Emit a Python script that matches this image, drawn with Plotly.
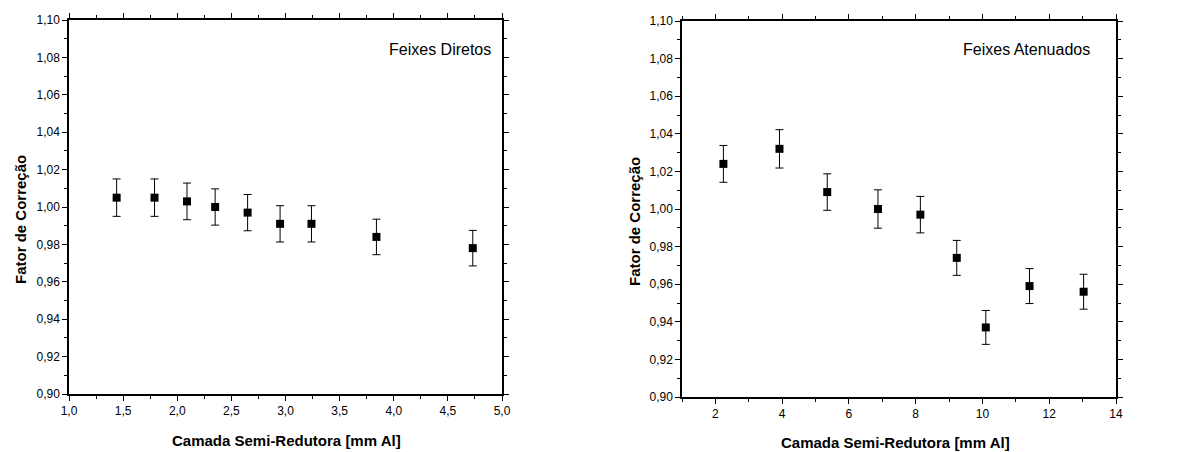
import plotly.graph_objects as go

# Left panel: Feixes Diretos
csr_diretos = [1.44, 1.79, 2.09, 2.35, 2.65, 2.95, 3.24, 3.84, 4.73]
fator_diretos = [1.005, 1.005, 1.003, 1.000, 0.997, 0.991, 0.991, 0.984, 0.978]
erro_diretos = [0.0100, 0.0100, 0.0098, 0.0097, 0.0097, 0.0097, 0.0097, 0.0095, 0.0095]

# Right panel: Feixes Atenuados
csr_atenuados = [2.24, 3.92, 5.35, 6.87, 8.14, 9.23, 10.10, 11.41, 13.03]
fator_atenuados = [1.024, 1.032, 1.009, 1.000, 0.997, 0.974, 0.937, 0.959, 0.956]
erro_atenuados = [0.0098, 0.0102, 0.0097, 0.0102, 0.0097, 0.0093, 0.0090, 0.0093, 0.0093]

titulo_x = "Camada Semi-Redutora [mm Al]"
titulo_y = "Fator de Correção"
rotulos = ["Feixes Diretos", "Feixes Atenuados"]

W, H = 1199, 452
FONT = "Liberation Sans, Arial, sans-serif"

def px_x(p):
    return p / W

def px_y(p):
    return 1 - p / H

fig = go.Figure()

fig.add_trace(go.Scatter(
    x=csr_diretos, y=fator_diretos, mode="markers",
    marker=dict(symbol="square", size=8, color="black"),
    error_y=dict(type="data", array=erro_diretos, visible=True, color="black", thickness=1, width=4),
    xaxis="x", yaxis="y", showlegend=False))

fig.add_trace(go.Scatter(
    x=csr_atenuados, y=fator_atenuados, mode="markers",
    marker=dict(symbol="square", size=8, color="black"),
    error_y=dict(type="data", array=erro_atenuados, visible=True, color="black", thickness=1, width=4),
    xaxis="x2", yaxis="y2", showlegend=False))

axis_common = dict(
    showline=True, linecolor="black", linewidth=1.5, mirror="ticks",
    ticks="outside", ticklen=5, tickwidth=1, tickcolor="black",
    showgrid=False, zeroline=False, automargin=False,
    tickfont=dict(family=FONT, size=12, color="black"),
)

fig.update_layout(
    width=W, height=H,
    margin=dict(l=0, r=0, t=0, b=0, pad=0),
    paper_bgcolor="white", plot_bgcolor="white",
    separators=", ",
    font=dict(family=FONT, color="black"),
    xaxis=dict(domain=[px_x(69), px_x(502)], range=[1.0, 5.0], tick0=1.0, dtick=0.5,
               tickformat=".1f", anchor="y",
               minor=dict(dtick=0.25, ticks="outside", ticklen=3, tickcolor="black"),
               **axis_common),
    yaxis=dict(domain=[px_y(394), px_y(20)], range=[0.90, 1.10], tick0=0.90, dtick=0.02,
               tickformat=".2f", anchor="x",
               minor=dict(dtick=0.01, ticks="outside", ticklen=3, tickcolor="black"),
               **axis_common),
    xaxis2=dict(domain=[px_x(682), px_x(1116)], range=[1, 14], tick0=2, dtick=2,
                anchor="y2",
                minor=dict(dtick=1, ticks="outside", ticklen=3, tickcolor="black"),
                **axis_common),
    yaxis2=dict(domain=[px_y(397), px_y(21)], range=[0.90, 1.10], tick0=0.90, dtick=0.02,
                tickformat=".2f", anchor="x2",
                minor=dict(dtick=0.01, ticks="outside", ticklen=3, tickcolor="black"),
                **axis_common),
)

ann = []
# panel labels
ann.append(dict(x=px_x(493), y=px_y(49), xref="paper", yref="paper", text=rotulos[0],
                showarrow=False, xanchor="right", yanchor="middle",
                font=dict(family=FONT, size=16, color="black")))
ann.append(dict(x=px_x(1092), y=px_y(49), xref="paper", yref="paper", text=rotulos[1],
                showarrow=False, xanchor="right", yanchor="middle",
                font=dict(family=FONT, size=16, color="black")))
# x titles
for cx, cy in [(286, 440), (895, 442)]:
    ann.append(dict(x=px_x(cx), y=px_y(cy), xref="paper", yref="paper", text="<b>" + titulo_x + "</b>",
                    showarrow=False, xanchor="center", yanchor="middle",
                    font=dict(family=FONT, size=15, color="black")))
# y titles
for cx, cy in [(20, 220), (634, 222)]:
    ann.append(dict(x=px_x(cx), y=px_y(cy), xref="paper", yref="paper", text="<b>" + titulo_y + "</b>",
                    showarrow=False, xanchor="center", yanchor="middle", textangle=-90,
                    font=dict(family=FONT, size=15, color="black")))
fig.update_layout(annotations=ann)

fig.write_html("out.html",
               config={"displayModeBar": False},
               post_script="document.body.style.margin='0';document.body.style.overflow='hidden';")
